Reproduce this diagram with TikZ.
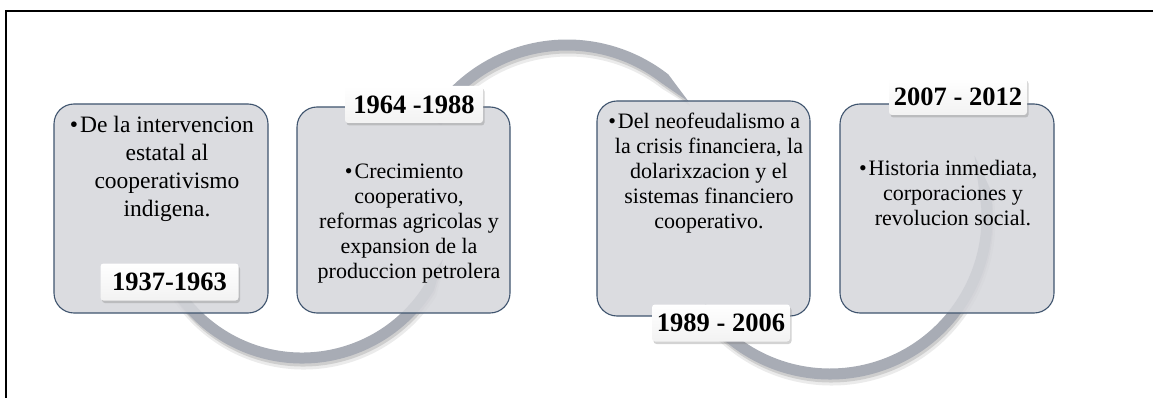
\documentclass[tikz,border=0pt]{standalone}
\usepackage{fontspec}
\setmainfont{Liberation Serif}
\usetikzlibrary{shadows}
\definecolor{cajagris}{RGB}{213,214,219}
\definecolor{cajaborde}{RGB}{63,84,110}
\definecolor{arcogris}{RGB}{168,172,181}
\begin{document}
\begin{tikzpicture}[x=1pt,y=-1pt,
    etapa/.style={draw=cajaborde,line width=1.1pt,fill=cajagris,fill opacity=.86,rounded corners=20pt},
    fecha/.style={top color=white,bottom color=black!5,rounded corners=3pt,minimum width=138pt,minimum height=37pt,inner sep=0pt,
        font=\bfseries\fontsize{26.5}{30}\selectfont,drop shadow={shadow xshift=1.5pt,shadow yshift=-2.5pt,opacity=.35}},
    texto/.style={align=center,inner sep=0pt,font=\fontsize{22}{25}\selectfont}]
\useasboundingbox (0,0) rectangle (1153,398);
\path[draw,line width=2pt] (6,398) -- (6,11.5) -- (1153,11.5);

\foreach \cx/\cy/\r/\a/\b/\t in {302/208/150/150/32/20, 567/204/159/213/308/320, 830/217/157/145/-10/-23}{
    \pgfmathsetmacro\ro{\r+5.5}
    \pgfmathsetmacro\ri{\r-5.5}
    \fill[black,opacity=.08,shift={(\cx+1.5,\cy+4.5)}] (\a:\ro+1.5) arc[start angle=\a,end angle=\b,radius=\ro+1.5] -- (\t:\r) -- (\b:\ri-1.5) arc[start angle=\b,end angle=\a,radius=\ri-1.5] -- cycle;
    \fill[black,opacity=.12,shift={(\cx+1,\cy+3)}] (\a:\ro) arc[start angle=\a,end angle=\b,radius=\ro] -- (\t:\r) -- (\b:\ri) arc[start angle=\b,end angle=\a,radius=\ri] -- cycle;
    \fill[arcogris,shift={(\cx,\cy)}] (\a:\ro) arc[start angle=\a,end angle=\b,radius=\ro] -- (\t:\r) -- (\b:\ri) arc[start angle=\b,end angle=\a,radius=\ri] -- cycle;
}

\foreach \n/\x/\y/\w/\h in {1/161/208.5/214/209, 2/403.5/210/213/206, 3/703.5/208.5/213/215, 4/947/208.5/214/209}{
    \node[etapa,minimum width=\w pt,minimum height=\h pt] (e\n) at (\x,\y) {};
}

\node[texto,font=\fontsize{23.5}{28}\selectfont] (t1) at (167,169) {\llap{\textbullet\hspace{2pt}}De la intervencion\\estatal al\\cooperativismo\\indigena.};
\node[texto] (t2) at (409,224) {\llap{\textbullet\hspace{2pt}}Crecimiento\\cooperativo,\\reformas agricolas y\\expansion de la\\produccion petrolera};
\node[texto] (t3) at (709,173) {\llap{\textbullet\hspace{2pt}}Del neofeudalismo a\\la crisis financiera, la\\dolarixzacion y el\\sistemas financiero\\cooperativo.};
\node[texto] (t4) at (953,193) {\llap{\textbullet\hspace{2pt}}Historia inmediata,\\corporaciones y\\revolucion social.};

\node[fecha] (f1) at (169.5,282) {1937-1963};
\node[fecha] (f2) at (414,104.5) {1964 -1988};
\node[fecha] (f3) at (721,323) {1989 - 2006};
\node[fecha] (f4) at (958,96.5) {2007 - 2012};
\end{tikzpicture}
\end{document}
